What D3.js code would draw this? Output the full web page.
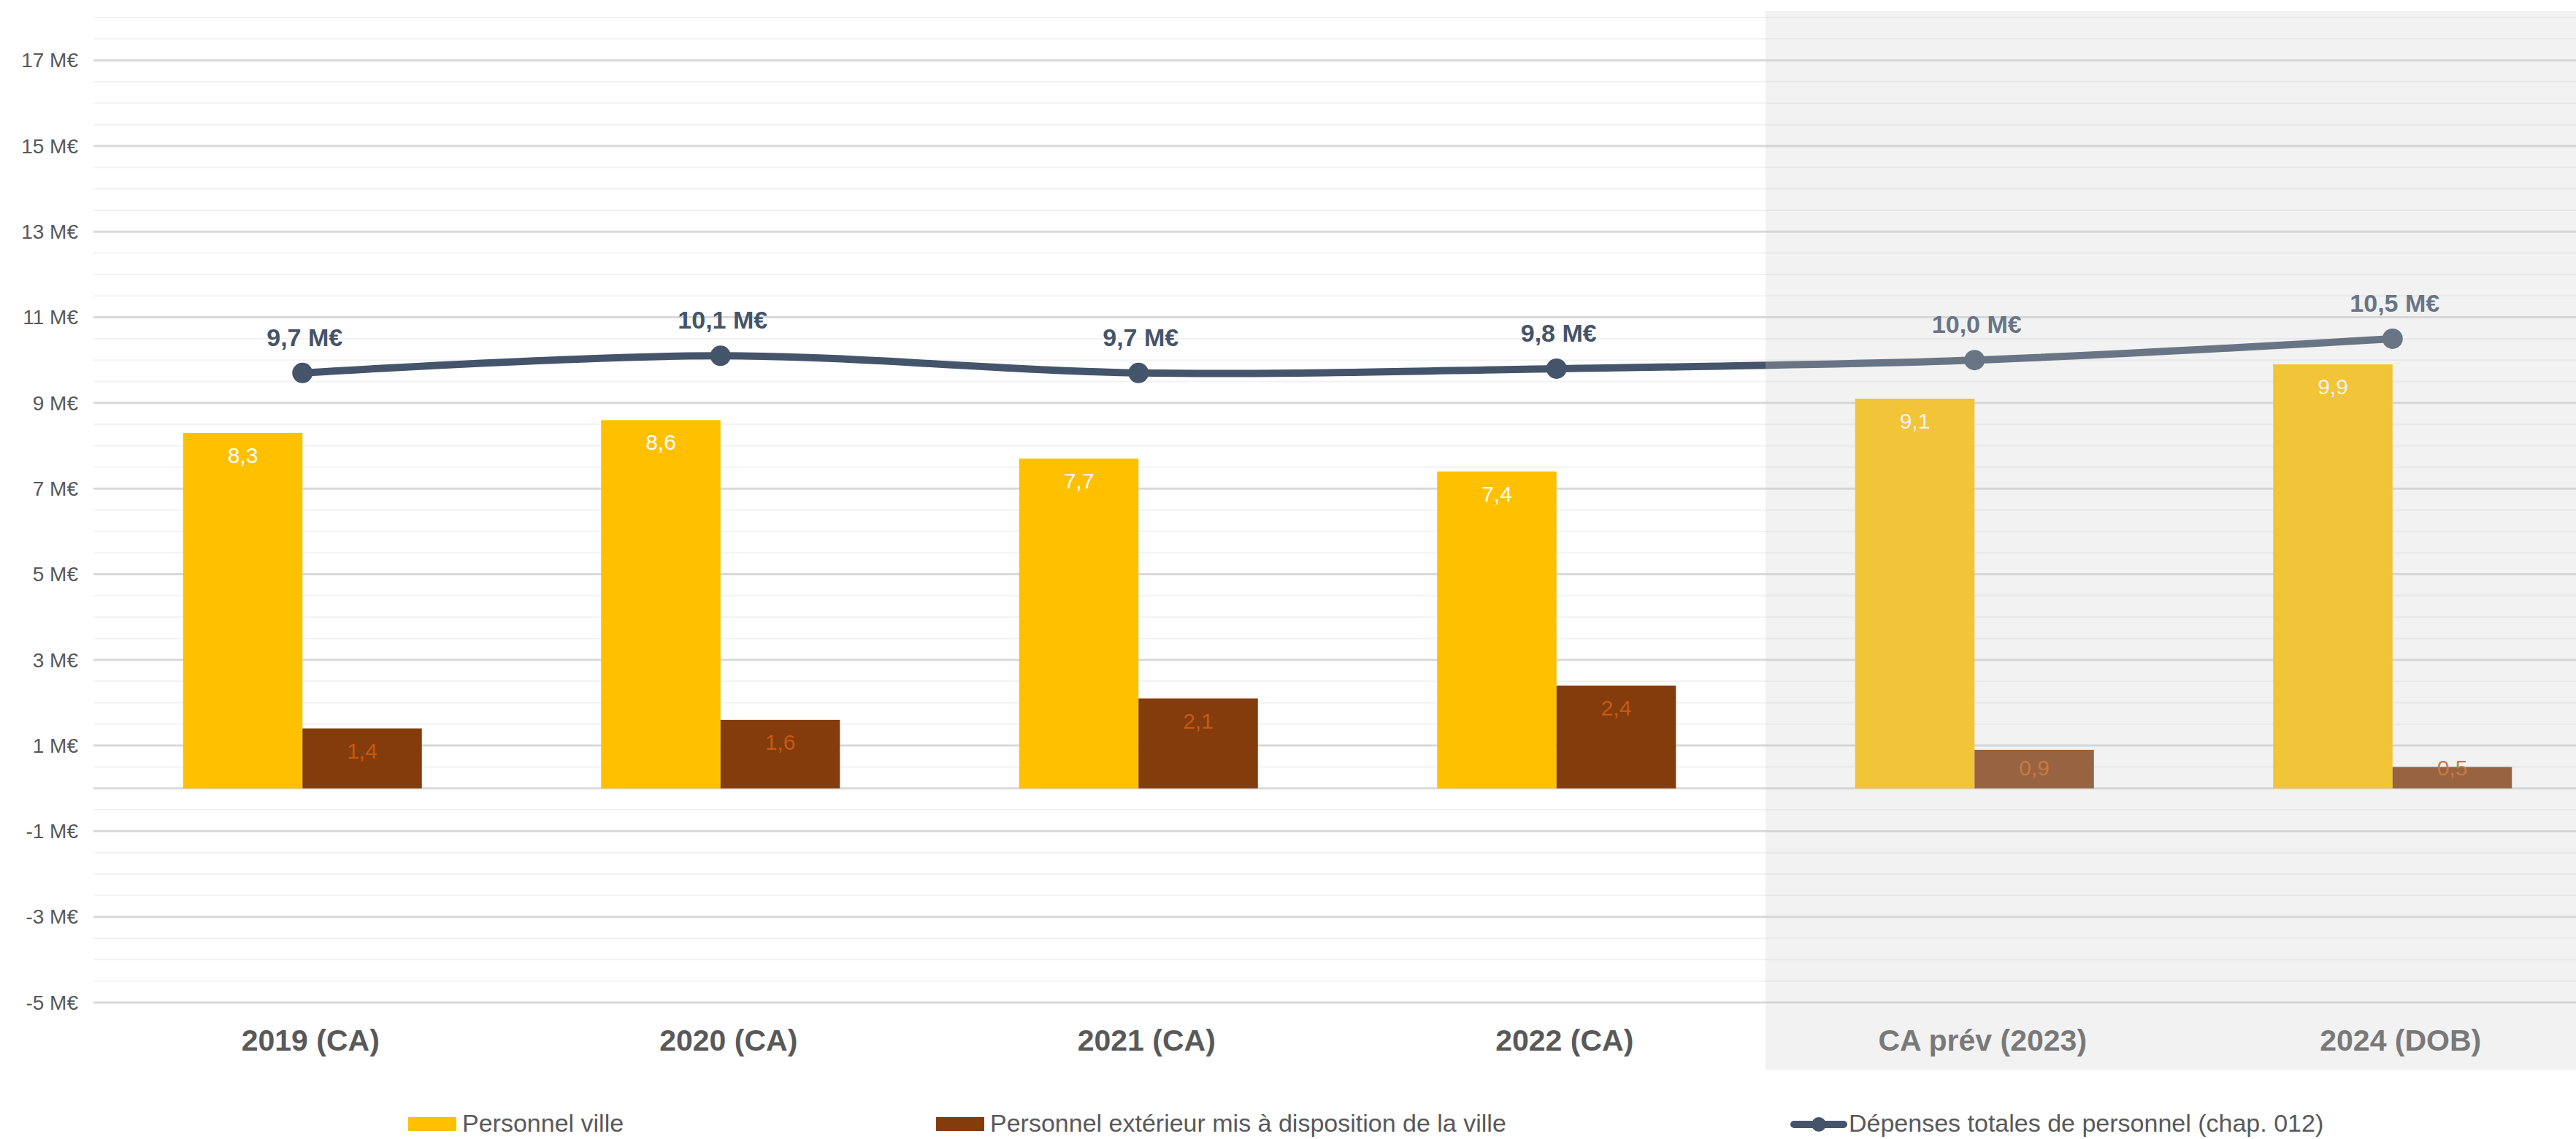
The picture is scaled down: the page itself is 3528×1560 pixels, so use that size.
<!DOCTYPE html>
<html lang="fr">
<head>
<meta charset="utf-8">
<title>Dépenses de personnel</title>
<script src="https://cdn.jsdelivr.net/npm/d3@7"></script>
<style>
  html, body { margin: 0; padding: 0; background: #ffffff; }
  svg { display: block; font-family: "Liberation Sans", Arial, sans-serif; }
</style>
</head>
<body>
<svg id="chart" width="3528" height="1560"></svg>
<script>
// Chart data (M€)
const categories = ["2019 (CA)", "2020 (CA)", "2021 (CA)", "2022 (CA)", "CA prév (2023)", "2024 (DOB)"];
const seriesNames = ["Personnel ville", "Personnel extérieur mis à disposition de la ville", "Dépenses totales de personnel (chap. 012)"];
const personnelVille = [8.3, 8.6, 7.7, 7.4, 9.1, 9.9];
const personnelExterieur = [1.4, 1.6, 2.1, 2.4, 0.9, 0.5];
const depensesTotales = [9.7, 10.1, 9.7, 9.8, 10.0, 10.5];
const yTickValues = [-5, -3, -1, 1, 3, 5, 7, 9, 11, 13, 15, 17];
const projectedCategories = ["CA prév (2023)", "2024 (DOB)"];

const colors = {
  ville: "#FFC000",
  exterieur: "#843C0C",
  total: "#44546A",
  villeLabel: "#FFFFFF",
  exterieurLabel: "#C55A11",
  axisText: "#595959",
  gridMajor: "#D9D9D9",
  gridMinor: "#F2F2F2"
};

const fr = d3.formatLocale({ decimal: ",", thousands: "\u00a0", grouping: [3], currency: ["", " €"] });
const fmt1 = fr.format(".1f");

const svg = d3.select("#chart");
const W = 3528, H = 1560;

// Plot area (the right edge runs past the visible frame)
const plot = { left: 128, right: 3563, top: 24, bottom: 1373 };

const y = d3.scaleLinear().domain([-5, 18]).range([plot.bottom, plot.top]);

const x = d3.scaleBand()
  .domain(categories)
  .range([plot.left, plot.right])
  .paddingInner(0.4288)
  .paddingOuter(0.2144);

const xSeries = d3.scaleBand()
  .domain(["ville", "exterieur"])
  .range([0, x.bandwidth()])
  .padding(0);

const xCenter = c => x(c) + x.bandwidth() / 2;

// Gridlines: minor every 0.5, major on labelled ticks
const minorTicks = d3.range(-5, 18.001, 0.5).filter(v => !yTickValues.includes(v) && v !== 0);
const grid = svg.append("g").attr("class", "grid");
grid.selectAll("line.minor")
  .data(minorTicks)
  .join("line")
  .attr("class", "minor")
  .attr("x1", plot.left).attr("x2", W)
  .attr("y1", d => y(d)).attr("y2", d => y(d))
  .attr("stroke", colors.gridMinor)
  .attr("stroke-width", 2);
grid.selectAll("line.major")
  .data(yTickValues.concat([0]))
  .join("line")
  .attr("class", "major")
  .attr("x1", plot.left).attr("x2", W)
  .attr("y1", d => y(d)).attr("y2", d => y(d))
  .attr("stroke", colors.gridMajor)
  .attr("stroke-width", 3);

// Y axis labels
const yAxis = d3.axisLeft(y)
  .tickValues(yTickValues)
  .tickSize(0)
  .tickPadding(0)
  .tickFormat(d => `${d} M€`);
const yAxisG = svg.append("g")
  .attr("transform", `translate(${plot.left - 21},0)`)
  .call(yAxis);
yAxisG.select(".domain").remove();
yAxisG.selectAll("text")
  .attr("fill", colors.axisText)
  .attr("font-size", 28)
  .attr("font-family", "'Liberation Sans', Arial, sans-serif")
  .attr("dy", "0.33em");

// Bars
const bars = svg.append("g").attr("class", "bars");
const barData = [];
categories.forEach((c, i) => {
  barData.push({ cat: c, key: "ville", value: personnelVille[i] });
  barData.push({ cat: c, key: "exterieur", value: personnelExterieur[i] });
});

bars.selectAll("rect")
  .data(barData)
  .join("rect")
  .attr("x", d => x(d.cat) + xSeries(d.key))
  .attr("width", xSeries.bandwidth())
  .attr("y", d => y(Math.max(0, d.value)))
  .attr("height", d => Math.abs(y(d.value) - y(0)))
  .attr("fill", d => colors[d.key]);

// Bar value labels (inside end, kept within the bar base)
bars.selectAll("text")
  .data(barData)
  .join("text")
  .attr("x", d => x(d.cat) + xSeries(d.key) + xSeries.bandwidth() / 2)
  .attr("y", d => Math.min(y(d.value) + 41, y(0) - 18))
  .attr("text-anchor", "middle")
  .attr("font-size", 30)
  .attr("fill", d => d.key === "ville" ? colors.villeLabel : colors.exterieurLabel)
  .text(d => fmt1(d.value));

// Total line (smoothed) with markers
const lineData = categories.map((c, i) => ({ cat: c, value: depensesTotales[i] }));
const line = d3.line()
  .x(d => xCenter(d.cat))
  .y(d => y(d.value))
  .curve(d3.curveCatmullRom.alpha(0.5));

const lineG = svg.append("g").attr("class", "total");
lineG.append("path")
  .datum(lineData)
  .attr("d", line)
  .attr("fill", "none")
  .attr("stroke", colors.total)
  .attr("stroke-width", 10)
  .attr("stroke-linecap", "round");
lineG.selectAll("circle")
  .data(lineData)
  .join("circle")
  .attr("cx", d => xCenter(d.cat))
  .attr("cy", d => y(d.value))
  .attr("r", 14)
  .attr("fill", colors.total);
lineG.selectAll("text")
  .data(lineData)
  .join("text")
  .attr("x", d => xCenter(d.cat) + 3)
  .attr("y", d => y(d.value) - 37)
  .attr("text-anchor", "middle")
  .attr("font-size", 34)
  .attr("font-weight", "bold")
  .attr("fill", colors.total)
  .text(d => `${fmt1(d.value)} M€`);

// Category axis labels
const xAxis = d3.axisBottom(x).tickSize(0).tickPadding(0);
const xAxisG = svg.append("g")
  .attr("transform", `translate(0,${plot.bottom})`)
  .call(xAxis);
xAxisG.select(".domain").remove();
xAxisG.selectAll("text")
  .attr("fill", colors.axisText)
  .attr("font-size", 41)
  .attr("font-weight", "bold")
  .attr("font-family", "'Liberation Sans', Arial, sans-serif")
  .attr("dx", 11)
  .attr("dy", 0)
  .attr("y", 66);

// Shaded band over the projected years
const firstProjected = projectedCategories[0];
svg.append("rect")
  .attr("x", x(firstProjected) - x.step() * x.paddingInner() / 2)
  .attr("y", 15)
  .attr("width", W)
  .attr("height", 1466 - 15)
  .attr("fill", "#D0D0D0")
  .attr("fill-opacity", 0.27);

// Legend
const legendItems = [
  { name: seriesNames[0], type: "rect", color: colors.ville, x: 559 },
  { name: seriesNames[1], type: "rect", color: colors.exterieur, x: 1282 },
  { name: seriesNames[2], type: "line", color: colors.total, x: 2453 }
];
const legendY = 1540;
const legend = svg.append("g").attr("class", "legend");
legendItems.forEach(item => {
  const g = legend.append("g").attr("transform", `translate(${item.x},${legendY})`);
  if (item.type === "rect") {
    g.append("rect")
      .attr("x", 0).attr("y", -10)
      .attr("width", 66).attr("height", 19)
      .attr("fill", item.color);
    g.append("text")
      .attr("x", 74).attr("y", 10)
      .attr("font-size", 34)
      .attr("fill", colors.axisText)
      .text(item.name);
  } else {
    g.append("line")
      .attr("x1", 4).attr("x2", 72)
      .attr("y1", 0).attr("y2", 0)
      .attr("stroke", item.color)
      .attr("stroke-width", 10)
      .attr("stroke-linecap", "round");
    g.append("circle")
      .attr("cx", 38).attr("cy", 0).attr("r", 10)
      .attr("fill", item.color);
    g.append("text")
      .attr("x", 79).attr("y", 10)
      .attr("font-size", 34)
      .attr("fill", colors.axisText)
      .text(item.name);
  }
});
</script>
</body>
</html>
